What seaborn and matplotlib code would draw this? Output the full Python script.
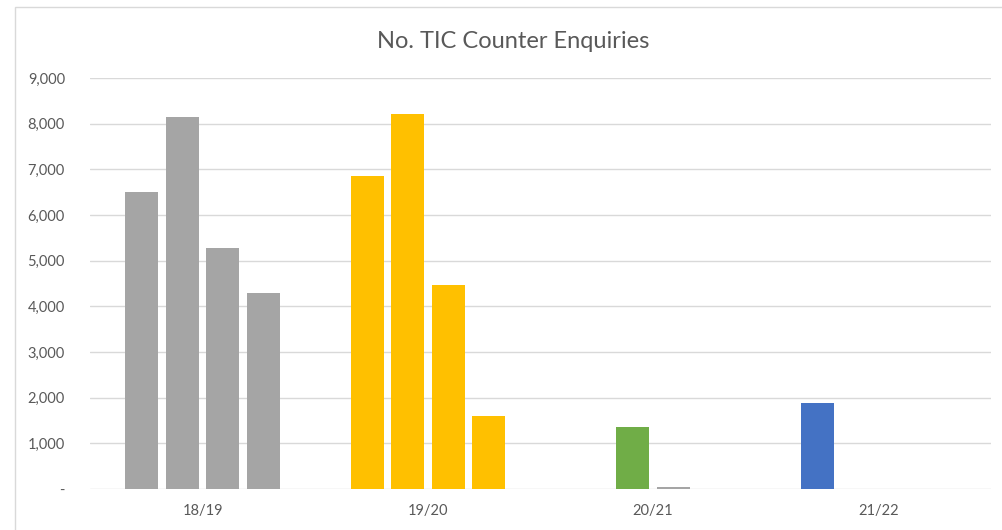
import numpy as np
import pandas as pd
import matplotlib
matplotlib.use("Agg")
import matplotlib.pyplot as plt
import seaborn as sns
from matplotlib.ticker import FuncFormatter
from matplotlib.patches import Rectangle

years = ["18/19", "19/20", "20/21", "21/22"]
quarters = ["Q1", "Q2", "Q3", "Q4"]
q1 = [6500, 6850, 0, 1880]
q2 = [8150, 8210, 1360, np.nan]
q3 = [5280, 4470, 50, np.nan]
q4 = [4290, 1600, 0, np.nan]

GRAY, GOLD, GREEN, BLUE = "#A5A5A5", "#FFC000", "#70AD47", "#4472C4"
year_colors = {"18/19": GRAY, "19/20": GOLD, "20/21": GREEN, "21/22": BLUE}
special_colors = {("20/21", "Q3"): GRAY}

rows = []
for q, vals in zip(quarters, [q1, q2, q3, q4]):
    for y, v in zip(years, vals):
        rows.append({"year": y, "quarter": q, "value": v})
df = pd.DataFrame(rows).dropna()

sns.set_theme(style="white")
plt.rcParams["font.family"] = ["Lato", "DejaVu Sans"]

fig = plt.figure(figsize=(10.03, 5.30), dpi=100)
ax = fig.add_axes([90 / 1003, 1 - 489 / 530, (991 - 90) / 1003, (489 - 78) / 530])

sns.barplot(data=df, x="year", y="value", hue="quarter", order=years,
            hue_order=quarters, width=0.72, gap=0.185, ax=ax,
            errorbar=None, legend=False, linewidth=0, saturation=1)

for qi, cont in enumerate(ax.containers):
    q = cont.get_label() if cont.get_label() in quarters else quarters[qi]
    for bar in cont:
        idx = int(round(bar.get_x() + bar.get_width() / 2))
        yr = years[idx]
        bar.set_facecolor(special_colors.get((yr, q), year_colors[yr]))
        bar.set_edgecolor("none")

ax.set_ylim(0, 9000)
ax.set_xlim(-0.5, 3.5)
ax.set_yticks(np.arange(0, 9001, 1000))
ax.yaxis.set_major_formatter(FuncFormatter(lambda v, p: "-" if v == 0 else f"{int(v):,}"))
ax.grid(axis="y", color="#D9D9D9", linewidth=1)
ax.set_axisbelow(True)
for s in ax.spines.values():
    s.set_visible(False)
ax.tick_params(axis="both", length=0, labelsize=10.5, labelcolor="#595959")
ax.tick_params(axis="y", pad=18)
ax.tick_params(axis="x", pad=11)
ax.set_xlabel("")
ax.set_ylabel("")

fig.text(513 / 1003, 1 - 41 / 530, "No. TIC Counter Enquiries", ha="center", va="center",
         fontsize=17, color="#595959")

fig.patches.append(Rectangle((15 / 1003, -0.1), 1.2, 1 - 7 / 530 + 0.1,
                             transform=fig.transFigure, fill=False,
                             edgecolor="#D9D9D9", linewidth=1))

fig.savefig("out.png", dpi=100)
